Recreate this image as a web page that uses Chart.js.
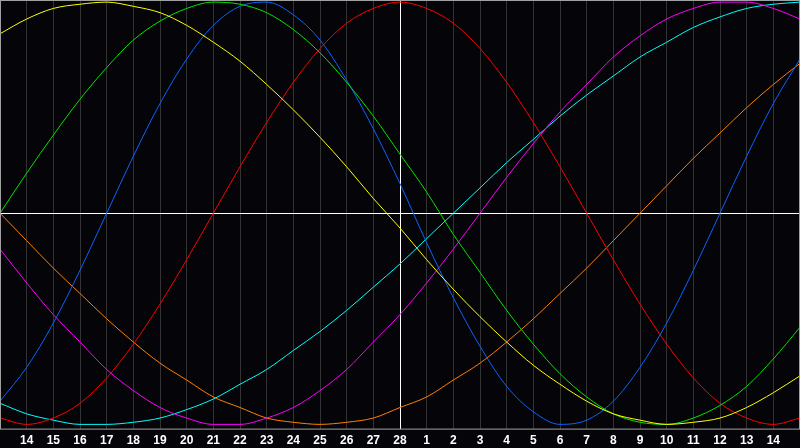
<!DOCTYPE html>
<html>
<head>
<meta charset="utf-8">
<script src="https://cdn.jsdelivr.net/npm/chart.js@4/dist/chart.umd.min.js"></script>
<style>
html, body { margin: 0; padding: 0; background: #050408; }
#wrap { width: 800px; height: 448px; }
</style>
</head>
<body>
<div id="wrap"><canvas id="bio"></canvas></div>
<script>
// day labels, 13th of last month .. 15th of this month (28 = today)
const days = ['13','14','15','16','17','18','19','20','21','22','23','24','25','26','27','28',
              '1','2','3','4','5','6','7','8','9','10','11','12','13','14','15'];
const todayIndex = 15;

// cycle values (-1 .. 1)
const physical = [-0.89,-0.73,-0.52,-0.27,0.00,0.27,0.52,0.73,0.89,0.98,1.00,0.94,0.82,0.63,0.40,0.14,
                  -0.14,-0.40,-0.63,-0.82,-0.94,-1.00,-0.98,-0.89,-0.73,-0.52,-0.27,0.00,0.27,0.52,0.73];
const emotional = [-0.97,-1.00,-0.97,-0.90,-0.78,-0.62,-0.43,-0.22,0.00,0.22,0.43,0.62,0.78,0.90,0.97,1.00,
                   0.97,0.90,0.78,0.62,0.43,0.22,0.00,-0.22,-0.43,-0.62,-0.78,-0.90,-0.97,-1.00,-0.97];
const intellectual = [0.00,0.19,0.37,0.54,0.69,0.82,0.91,0.97,1.00,0.99,0.95,0.87,0.76,0.62,0.46,0.28,
                      0.10,-0.10,-0.28,-0.46,-0.62,-0.76,-0.87,-0.95,-0.99,-1.00,-0.97,-0.91,-0.82,-0.69,-0.54];
const intuitive = [-0.17,-0.33,-0.48,-0.61,-0.74,-0.84,-0.92,-0.97,-1.00,-1.00,-0.97,-0.92,-0.84,-0.74,-0.61,-0.48,
                   -0.33,-0.17,0.00,0.17,0.33,0.48,0.61,0.74,0.84,0.92,0.97,1.00,1.00,0.97,0.92];
const aesthetic = [0.85,0.92,0.97,0.99,1.00,0.98,0.95,0.89,0.81,0.72,0.61,0.49,0.36,0.22,0.07,-0.07,
                   -0.22,-0.36,-0.49,-0.61,-0.72,-0.81,-0.89,-0.95,-0.98,-1.00,-0.99,-0.97,-0.92,-0.85,-0.77];
const awareness = [0.00,-0.13,-0.26,-0.38,-0.50,-0.61,-0.71,-0.79,-0.87,-0.92,-0.97,-0.99,-1.00,-0.99,-0.97,-0.92,
                   -0.87,-0.79,-0.71,-0.61,-0.50,-0.38,-0.26,-0.13,0.00,0.13,0.26,0.38,0.50,0.61,0.71];
const spiritual = [-0.90,-0.95,-0.98,-1.00,-1.00,-0.99,-0.97,-0.93,-0.88,-0.81,-0.74,-0.65,-0.56,-0.46,-0.35,-0.24,
                   -0.12,0.00,0.12,0.24,0.35,0.46,0.56,0.65,0.74,0.81,0.88,0.93,0.97,0.99,1.00];

const series = [
  { label: 'Aesthetic',    data: aesthetic,    color: '#ffff00' },
  { label: 'Intellectual', data: intellectual, color: '#00e600' },
  { label: 'Physical',     data: physical,     color: '#0a64ff' },
  { label: 'Emotional',    data: emotional,    color: '#ff0000' },
  { label: 'Intuitive',    data: intuitive,    color: '#ff00ff' },
  { label: 'Spiritual',    data: spiritual,    color: '#00ffff' },
  { label: 'Awareness',    data: awareness,    color: '#ff8000' }
];

const background = {
  id: 'background',
  beforeDraw(chart) {
    const c = chart.ctx;
    c.save();
    c.fillStyle = '#050408';
    c.fillRect(0, 0, chart.width, chart.height);
    c.restore();
  },
  afterDraw(chart) {
    const a = chart.chartArea;
    const c = chart.ctx;
    c.save();
    c.strokeStyle = '#a0a0a0';
    c.lineWidth = 1;
    c.strokeRect(a.left + 0.5, a.top + 0.5, a.right - a.left - 1, a.bottom - a.top);
    c.restore();
  }
};

new Chart(document.getElementById('bio'), {
  type: 'line',
  data: {
    labels: days,
    datasets: series.map(s => ({
      label: s.label,
      data: s.data,
      borderColor: s.color,
      borderWidth: 1,
      pointRadius: 0,
      pointHoverRadius: 0,
      cubicInterpolationMode: 'monotone',
      fill: false
    }))
  },
  options: {
    responsive: true,
    maintainAspectRatio: false,
    animation: false,
    layout: { autoPadding: false, padding: 0 },
    plugins: { legend: { display: false }, tooltip: { enabled: false } },
    scales: {
      x: {
        offset: false,
        border: { display: false },
        grid: {
          drawTicks: true,
          tickLength: 5,
          tickColor: 'rgba(0,0,0,0)',
          lineWidth: 1,
          color: ctx => ctx.index === todayIndex ? '#ffffff'
                      : (ctx.index === 0 || ctx.index === days.length - 1) ? 'rgba(0,0,0,0)' : '#333333'
        },
        ticks: {
          autoSkip: false,
          maxRotation: 0,
          padding: 0,
          color: '#ffffff',
          font: { family: 'Liberation Sans', size: 12, weight: 'bold' },
          callback: (v, i) => (i === 0 || i === days.length - 1) ? '' : days[i]
        }
      },
      y: {
        min: -1.02,
        max: 1.01,
        border: { display: false },
        grid: {
          drawTicks: false,
          lineWidth: 1,
          color: ctx => ctx.tick.value === 0 ? '#ffffff' : 'rgba(0,0,0,0)'
        },
        ticks: { display: false, stepSize: 1 }
      }
    }
  },
  plugins: [background]
});
</script>
</body>
</html>
